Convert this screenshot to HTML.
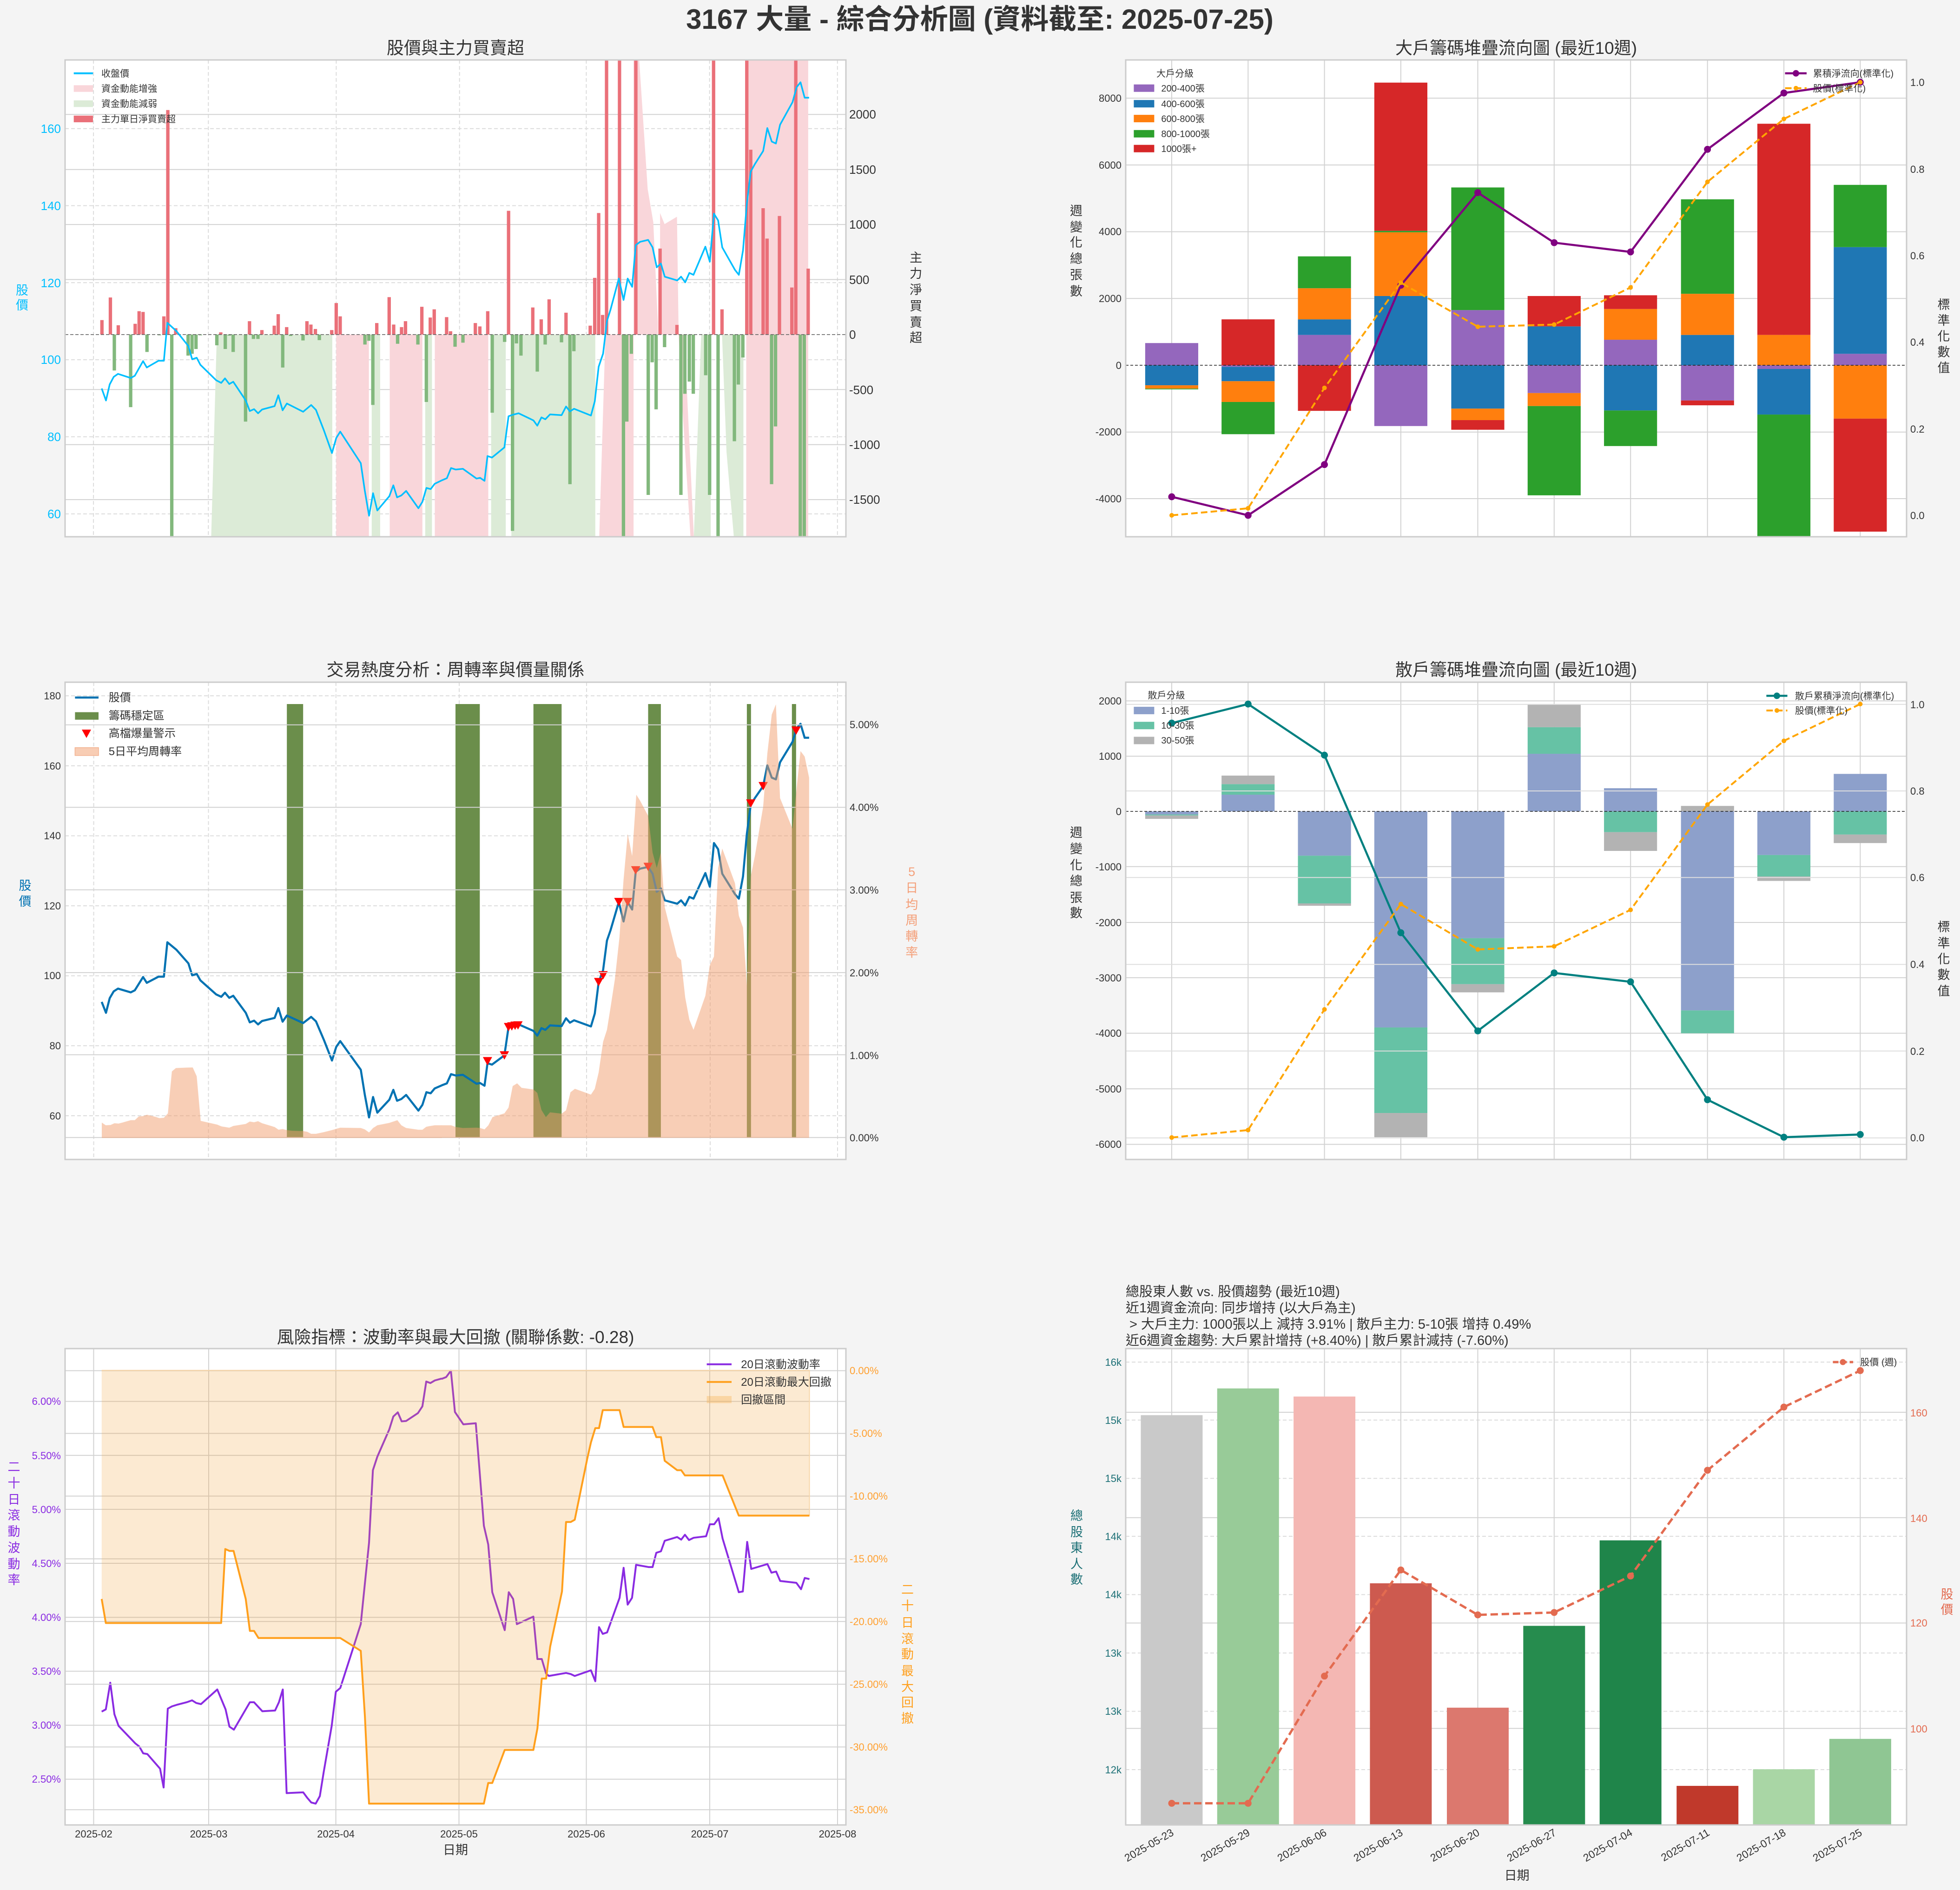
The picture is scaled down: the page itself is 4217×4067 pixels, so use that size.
<!DOCTYPE html>
<html><head><meta charset="utf-8">
<style>html,body{margin:0;padding:0;background:#f4f4f4}svg{display:block}</style>
</head><body>
<svg xmlns="http://www.w3.org/2000/svg" width="4217" height="4067" viewBox="0 0 4217 4067">
<style>
text{font-family:'Liberation Sans','Noto Sans CJK TC',sans-serif;fill:#333}
.tt{font-size:37px}
.k{font-size:22px}
.k26{font-size:26px}
.l20{font-size:20px}
.l24{font-size:24px}
.yl{font-size:27px}
.nss{vector-effect:non-scaling-stroke}
.gd{stroke:#dcdcdc;stroke-width:2;stroke-dasharray:8 5;fill:none}
.gs{stroke:#d2d2d2;stroke-width:2;fill:none}
.sp{fill:none;stroke:#cccccc;stroke-width:3}
</style>
<defs>
<clipPath id="cTL"><rect x="140" y="129" width="1680" height="1026"/></clipPath>
<clipPath id="cTR"><rect x="2422" y="129" width="1680" height="1026"/></clipPath>
<clipPath id="cML"><rect x="140" y="1468" width="1680" height="1027"/></clipPath>
<clipPath id="cMR"><rect x="2422" y="1468" width="1680" height="1027"/></clipPath>
<clipPath id="cBL"><rect x="140" y="2902" width="1680" height="1025"/></clipPath>
<clipPath id="cBR"><rect x="2422" y="2902" width="1680" height="1025"/></clipPath>
<marker id="mP" viewBox="-1 -1 2 2" markerUnits="userSpaceOnUse" markerWidth="15" markerHeight="15"><circle r="1" fill="#800080"/></marker>
<marker id="mO" viewBox="-1 -1 2 2" markerUnits="userSpaceOnUse" markerWidth="10" markerHeight="10"><circle r="1" fill="#ffa500"/></marker>
<marker id="mT" viewBox="-1 -1 2 2" markerUnits="userSpaceOnUse" markerWidth="15" markerHeight="15"><circle r="1" fill="#008080"/></marker>
<marker id="mR" viewBox="-1 -1 2 2" markerUnits="userSpaceOnUse" markerWidth="15" markerHeight="15"><circle r="1" fill="#e36b50"/></marker>
</defs>
<rect width="4217" height="4067" fill="#f4f4f4"/>

<!-- Main title -->
<text x="2108" y="62" text-anchor="middle" style="font-size:60px;font-weight:bold">3167 大量 - 綜合分析圖 (資料截至: 2025-07-25)</text>

<!-- ================= TOP LEFT ================= -->
<rect x="140" y="129" width="1680" height="1026" fill="#fff"/>
<g clip-path="url(#cTL)">
<path class="gd" d="M140 276.7H1820M140 442.5H1820M140 608.3H1820M140 774.1H1820M140 939.9H1820M140 1105.7H1820M201.1 129V1155M448.3 129V1155M723.4 129V1155M988.7 129V1155M1261.4 129V1155M1526.7 129V1155M1801.8 129V1155"/>
<path class="gs" d="M140 246.3H1820M140 364.7H1820M140 483.1H1820M140 601.5H1820M140 838.3H1820M140 956.7H1820M140 1075.1H1820"/>
<g transform="scale(1.21173,0.79719)">
<g fill="#dcebd7">
<polygon points="385,903 590,903 590,1449 375,1449"/>
<polygon points="660,903 675,903 675,1449 660,1449"/>
<polygon points="755,903 767,903 767,1449 755,1449"/>
<polygon points="872,903 898,903 898,1449 872,1449"/>
<polygon points="908,903 1057,903 1057,1449 908,1449"/>
<polygon points="1245,903 1262,903 1262,1449 1232,1449"/>
<polygon points="1282,903 1320,903 1320,1449 1303,1449 1290,1220"/>
</g>
<g fill="#f9d6da">
<polygon points="597,903 655,903 655,1449 597,1449"/>
<polygon points="692,903 750,903 750,1449 692,1449"/>
<polygon points="772,903 867,903 867,1449 772,1449"/>
<polygon points="1075,903 1125,903 1125,1449 1064,1449"/>
<polygon points="1125,162 1135,162 1150,510 1160,600 1168,870 1168,903 1125,903"/>
<polygon points="1172,575 1180,605 1202,585 1205,903 1172,903"/>
<polygon points="1205,903 1215,903 1232,1449 1226,1449 1210,1060"/>
<polygon points="1325,162 1435,162 1435,1449 1325,1449"/>
</g>
<path fill="#ea7079" d="M178 903V864h6V903zM193 903V803h6V903zM207 903V878h6V903zM237 903V874h6V903zM244 903V840h6V903zM251 903V842h6V903zM288 903V854h6V903zM295 903V297h6V903zM309 903V886h6V903zM389 903V897h6V903zM440 903V867h6V903zM462 903V891h6V903zM484 903V879h6V903zM491 903V848h6V903zM506 903V883h6V903zM542 903V867h6V903zM549 903V876h6V903zM557 903V888h6V903zM586 903V891h6V903zM594 903V818h6V903zM601 903V854h6V903zM666 903V872h6V903zM688 903V802h6V903zM696 903V876h6V903zM710 903V883h6V903zM717 903V867h6V903zM746 903V828h6V903zM761 903V857h6V903zM768 903V835h6V903zM790 903V856h6V903zM797 903V894h6V903zM841 903V872h6V903zM849 903V881h6V903zM863 903V840h6V903zM900 903V569h6V903zM943 903V830h6V903zM958 903V862h6V903zM972 903V808h6V903zM1002 903V844h6V903zM1045 903V879h6V903zM1053 903V750h6V903zM1060 903V575h6V903zM1067 903V850h6V903zM1074 903V162h6V903zM1097 903V162h6V903zM1126 903V162h6V903zM1169 903V671h6V903zM1199 903V877h6V903zM1264 903V162h6V903zM1279 903V835h6V903zM1323 903V162h6V903zM1330 903V404h6V903zM1352 903V562h6V903zM1359 903V644h6V903zM1381 903V583h6V903zM1403 903V776h6V903zM1410 903V162h6V903zM1432 903V725h6V903z"/>
<path fill="#82b87d" d="M200 903V1000h6V903zM229 903V1099h6V903zM258 903V950h6V903zM280 903V905h6V903zM302 903V1449h6V903zM331 903V960h6V903zM338 903V955h6V903zM345 903V942h6V903zM353 903V905h6V903zM382 903V932h6V903zM397 903V942h6V903zM404 903V906h6V903zM411 903V950h6V903zM433 903V1138h6V903zM447 903V915h6V903zM455 903V915h6V903zM499 903V992h6V903zM513 903V907h6V903zM535 903V919h6V903zM564 903V918h6V903zM645 903V930h6V903zM652 903V920h6V903zM659 903V1093h6V903zM703 903V928h6V903zM739 903V930h6V903zM754 903V1085h6V903zM805 903V936h6V903zM819 903V925h6V903zM871 903V1114h6V903zM893 903V923h6V903zM907 903V1433h6V903zM914 903V927h6V903zM922 903V960h6V903zM951 903V1003h6V903zM965 903V930h6V903zM994 903V924h6V903zM1009 903V1307h6V903zM1016 903V948h6V903zM1104 903V1449h6V903zM1110 903V1138h6V903zM1118 903V955h6V903zM1148 903V1336h6V903zM1155 903V978h6V903zM1162 903V1105h6V903zM1177 903V937h6V903zM1206 903V1336h6V903zM1213 903V1063h6V903zM1221 903V1030h6V903zM1228 903V1063h6V903zM1250 903V1013h6V903zM1257 903V1336h6V903zM1272 903V1449h6V903zM1301 903V1191h6V903zM1308 903V1038h6V903zM1316 903V965h6V903zM1367 903V1307h6V903zM1374 903V1151h6V903zM1418 903V1449h6V903zM1425 903V1449h6V903z"/>
</g>
<path d="M140 719.9H1820" stroke="#666" stroke-width="1.6" stroke-dasharray="7 4" fill="none"/>
<g fill="none" stroke="#00bfff" stroke-width="3.5" stroke-linejoin="round">
<polyline class="nss" transform="translate(100,-18.26) scale(0.57405,0.80744)" points="207,1058 223,1090 237,1047 252,1027 268,1019 316,1030 331,1024 362,985 376,1002 420,984 440,984 453,883 487,905 532,945 546,980 563,976 577,995 636,1036 655,1043 669,1031 685,1046 700,1040 747,1090 762,1118 778,1113 793,1124 808,1114 855,1105 869,1076 885,1116 901,1098 962,1120 992,1102 1010,1115 1040,1170 1070,1230 1086,1190 1101,1173 1178,1257 1193,1330 1209,1397 1224,1337 1240,1383 1285,1345 1300,1316 1314,1348 1330,1343 1348,1331 1394,1377 1409,1360 1424,1323 1440,1326 1455,1312 1481,1303"/>
<polyline class="nss" transform="translate(950,-18.26) scale(0.63776,0.80744)" points="0,1303 18,1297 32,1270 48,1274 72,1272 118,1298 130,1296 145,1304 155,1238 170,1242 212,1215 226,1132 240,1128 260,1124 310,1143 323,1157 337,1135 350,1140 366,1127 405,1129 420,1106 433,1119 447,1112 504,1130 517,1092 530,1000 545,965 558,878 570,848 598,765 614,822 628,765 643,787 655,676 670,667 697,662 712,682 726,735 740,725 753,760 795,770 808,760 822,775 836,750 850,755 890,680 905,720 919,592 933,610 947,682 990,742 1003,755 1017,690 1030,565 1043,480 1057,460 1085,425 1099,364 1114,400 1128,405 1142,355 1184,295 1198,255 1211,242 1225,283 1240,283"/>
</g>
<!-- legend -->
<path d="M158.7 157.8H200" stroke="#00bfff" stroke-width="4"/>
<rect x="158.7" y="183.4" width="41.3" height="14.3" fill="#f9d6da"/>
<rect x="158.7" y="216" width="41.3" height="14.3" fill="#dcebd7"/>
<rect x="158.7" y="248.8" width="41.3" height="14.3" fill="#ea7079"/>
<text class="l20" x="218" y="165">收盤價</text>
<text class="l20" x="218" y="197.5">資金動能增強</text>
<text class="l20" x="218" y="230">資金動能減弱</text>
<text class="l20" x="218" y="263">主力單日淨買賣超</text>
</g>
<rect class="sp" x="140" y="129" width="1680" height="1026"/>
<text class="tt" x="980" y="116" text-anchor="middle">股價與主力買賣超</text>
<g class="k26" text-anchor="end" style="fill:#00bfff">
<text x="131" y="286" style="fill:#00bfff">160</text>
<text x="131" y="452" style="fill:#00bfff">140</text>
<text x="131" y="618" style="fill:#00bfff">120</text>
<text x="131" y="783" style="fill:#00bfff">100</text>
<text x="131" y="949" style="fill:#00bfff">80</text>
<text x="131" y="1115" style="fill:#00bfff">60</text>
</g>
<g class="k26">
<text x="1827" y="255">2000</text>
<text x="1827" y="374">1500</text>
<text x="1827" y="492">1000</text>
<text x="1827" y="611">500</text>
<text x="1827" y="729">0</text>
<text x="1827" y="848">-500</text>
<text x="1827" y="966">-1000</text>
<text x="1827" y="1084">-1500</text>
</g>
<text class="yl" text-anchor="middle" style="fill:#00bfff"><tspan x="47.5" y="634">股</tspan><tspan x="47.5" y="666">價</tspan></text>
<text class="yl" text-anchor="middle"><tspan x="1970.6" y="564">主</tspan><tspan x="1970.6" y="598">力</tspan><tspan x="1970.6" y="633">淨</tspan><tspan x="1970.6" y="668">買</tspan><tspan x="1970.6" y="703">賣</tspan><tspan x="1970.6" y="736">超</tspan></text>

<!-- ================= TOP RIGHT ================= -->
<rect x="2422" y="129" width="1680" height="1026" fill="#fff"/>
<g clip-path="url(#cTR)">
<path class="gs" d="M2422 211.3H4102M2422 355H4102M2422 498.6H4102M2422 642.3H4102M2422 929.7H4102M2422 1073H4102M2521 129V1155M2685.3 129V1155M2849.6 129V1155M3013.9 129V1155M3179.5 129V1155M3343.8 129V1155M3508.2 129V1155M3673.7 129V1155M3838.1 129V1155M4002.4 129V1155"/>
<g transform="translate(2250,0) scale(1.2544,0.7972)">
<g fill="#9467bd">
<rect x="170.5" y="926" width="91" height="60"/><rect x="301.5" y="986" width="91" height="4"/><rect x="432.5" y="904" width="91" height="82"/><rect x="563.5" y="986" width="91" height="164"/><rect x="695.5" y="837" width="91" height="149"/><rect x="826.5" y="986" width="91" height="75"/><rect x="957.5" y="917" width="91" height="69"/><rect x="1089.5" y="986" width="91" height="95"/><rect x="1220.5" y="986" width="91" height="10"/><rect x="1351.5" y="955" width="91" height="31"/>
</g>
<g fill="#1f77b4">
<rect x="170.5" y="986" width="91" height="54"/><rect x="301.5" y="990" width="91" height="39"/><rect x="432.5" y="862" width="91" height="42"/><rect x="563.5" y="799" width="91" height="187"/><rect x="695.5" y="986" width="91" height="117"/><rect x="826.5" y="881" width="91" height="105"/><rect x="957.5" y="986" width="91" height="122"/><rect x="1089.5" y="904" width="91" height="82"/><rect x="1220.5" y="996" width="91" height="123"/><rect x="1351.5" y="667" width="91" height="288"/>
</g>
<g fill="#ff7f0e">
<rect x="170.5" y="1040" width="91" height="9"/><rect x="301.5" y="1029" width="91" height="56"/><rect x="432.5" y="778" width="91" height="84"/><rect x="563.5" y="627" width="91" height="172"/><rect x="695.5" y="1103" width="91" height="31"/><rect x="826.5" y="1061" width="91" height="35"/><rect x="957.5" y="834" width="91" height="83"/><rect x="1089.5" y="793" width="91" height="111"/><rect x="1220.5" y="904" width="91" height="82"/><rect x="1351.5" y="986" width="91" height="144"/>
</g>
<g fill="#2ca02c">
<rect x="170.5" y="1049" width="91" height="2"/><rect x="301.5" y="1085" width="91" height="87"/><rect x="432.5" y="692" width="91" height="86"/><rect x="563.5" y="623" width="91" height="4"/><rect x="695.5" y="506" width="91" height="331"/><rect x="826.5" y="1096" width="91" height="241"/><rect x="957.5" y="1108" width="91" height="96"/><rect x="1089.5" y="538" width="91" height="255"/><rect x="1220.5" y="1119" width="91" height="340"/><rect x="1351.5" y="499" width="91" height="168"/>
</g>
<g fill="#d62728">
<rect x="301.5" y="862" width="91" height="124"/><rect x="432.5" y="986" width="91" height="123"/><rect x="563.5" y="223" width="91" height="400"/><rect x="695.5" y="1134" width="91" height="26"/><rect x="826.5" y="799" width="91" height="82"/><rect x="957.5" y="797" width="91" height="37"/><rect x="1089.5" y="1081" width="91" height="13"/><rect x="1220.5" y="334" width="91" height="570"/><rect x="1351.5" y="1130" width="91" height="305"/>
</g>
</g>
<path d="M2422 786H4102" stroke="#222" stroke-width="1.6" stroke-dasharray="6 4" fill="none"/>
<polyline fill="none" stroke="#800080" stroke-width="4.5" stroke-linejoin="round" marker-start="url(#mP)" marker-mid="url(#mP)" marker-end="url(#mP)" points="2521,1069 2685.3,1108.9 2849.6,999.7 3013.9,613.8 3179.5,414.5 3343.8,522.2 3508.2,542.1 3673.7,321.3 3838.1,200.1 4002.4,177"/>
<polyline fill="none" stroke="#ffa500" stroke-width="4" stroke-dasharray="14 7" marker-start="url(#mO)" marker-mid="url(#mO)" marker-end="url(#mO)" points="2521,1108.9 2685.3,1093.8 2849.6,834.7 3013.9,608.3 3179.5,703.1 3343.8,698.4 3508.2,618.6 3673.7,391.4 3838.1,255.9 4002.4,177"/>
<!-- legends -->
<text class="l20" x="2488" y="165">大戶分級</text>
<rect x="2439.4" y="181.7" width="44" height="16" fill="#9467bd"/>
<rect x="2439.4" y="215.2" width="44" height="16" fill="#1f77b4"/>
<rect x="2439.4" y="247.1" width="44" height="16" fill="#ff7f0e"/>
<rect x="2439.4" y="279.8" width="44" height="16" fill="#2ca02c"/>
<rect x="2439.4" y="311.7" width="44" height="16" fill="#d62728"/>
<text class="l20" x="2498.4" y="197">200-400張</text>
<text class="l20" x="2498.4" y="230.5">400-600張</text>
<text class="l20" x="2498.4" y="262.5">600-800張</text>
<text class="l20" x="2498.4" y="295">800-1000張</text>
<text class="l20" x="2498.4" y="327">1000張+</text>
<path d="M3840.6 157.8H3887" stroke="#800080" stroke-width="4.5"/><circle cx="3864" cy="157.8" r="7" fill="#800080"/>
<path d="M3840.6 189.7H3887" stroke="#ffa500" stroke-width="4" stroke-dasharray="14 7"/><circle cx="3864" cy="189.7" r="5" fill="#ffa500"/>
<text class="l20" x="3900.8" y="165">累積淨流向(標準化)</text>
<text class="l20" x="3900.8" y="197">股價(標準化)</text>
</g>
<rect class="sp" x="2422" y="129" width="1680" height="1026"/>
<text class="tt" x="3262" y="116" text-anchor="middle">大戶籌碼堆疊流向圖 (最近10週)</text>
<g class="k" text-anchor="end">
<text x="2413" y="219">8000</text><text x="2413" y="363">6000</text><text x="2413" y="506">4000</text><text x="2413" y="650">2000</text><text x="2413" y="794">0</text><text x="2413" y="937">-2000</text><text x="2413" y="1081">-4000</text>
</g>
<g class="k">
<text x="4110" y="185">1.0</text><text x="4110" y="372">0.8</text><text x="4110" y="558">0.6</text><text x="4110" y="744">0.4</text><text x="4110" y="931">0.2</text><text x="4110" y="1117">0.0</text>
</g>
<text class="yl" text-anchor="middle"><tspan x="2315.5" y="463">週</tspan><tspan x="2315.5" y="498">變</tspan><tspan x="2315.5" y="531">化</tspan><tspan x="2315.5" y="566">總</tspan><tspan x="2315.5" y="601">張</tspan><tspan x="2315.5" y="636">數</tspan></text>
<text class="yl" text-anchor="middle"><tspan x="4182" y="665">標</tspan><tspan x="4182" y="699">準</tspan><tspan x="4182" y="733">化</tspan><tspan x="4182" y="767">數</tspan><tspan x="4182" y="801">值</tspan></text>

<!-- ================= MIDDLE LEFT ================= -->
<rect x="140" y="1468" width="1680" height="1027" fill="#fff"/>
<g clip-path="url(#cML)">
<path class="gd" d="M140 1497.3H1820M140 1647.9H1820M140 1798.5H1820M140 1949.1H1820M140 2099.7H1820M140 2250.3H1820M140 2400.9H1820M201.6 1468V2495M448.5 1468V2495M722.8 1468V2495M988 1468V2495M1262 1468V2495M1528 1468V2495M1802 1468V2495"/>
<g fill="#6b8e4b">
<rect x="617.2" y="1515" width="35" height="933.6"/>
<rect x="980" y="1515" width="52.3" height="933.6"/>
<rect x="1147.7" y="1515" width="60.6" height="933.6"/>
<rect x="1394.5" y="1515" width="27.4" height="933.6"/>
<rect x="1606.9" y="1515" width="8.9" height="933.6"/>
<rect x="1703.8" y="1515" width="9" height="933.6"/>
</g>
<g fill="none" stroke="#0072b2" stroke-width="4.5" stroke-linejoin="round">
<polyline class="nss" transform="translate(100,1380) scale(0.57405,0.73341)" points="207,1058 223,1090 237,1047 252,1027 268,1019 316,1030 331,1024 362,985 376,1002 420,984 440,984 453,883 487,905 532,945 546,980 563,976 577,995 636,1036 655,1043 669,1031 685,1046 700,1040 747,1090 762,1118 778,1113 793,1124 808,1114 855,1105 869,1076 885,1116 901,1098 962,1120 992,1102 1010,1115 1040,1170 1070,1230 1086,1190 1101,1173 1178,1257 1193,1330 1209,1397 1224,1337 1240,1383 1285,1345 1300,1316 1314,1348 1330,1343 1348,1331 1394,1377 1409,1360 1424,1323 1440,1326 1455,1312 1481,1303"/>
<polyline class="nss" transform="translate(950,1380) scale(0.63776,0.73341)" points="0,1303 18,1297 32,1270 48,1274 72,1272 118,1298 130,1296 145,1304 155,1238 170,1242 212,1215 226,1132 240,1128 260,1124 310,1143 323,1157 337,1135 350,1140 366,1127 405,1129 420,1106 433,1119 447,1112 504,1130 517,1092 530,1000 545,965 558,878 570,848 598,765 614,822 628,765 643,787 655,676 670,667 697,662 712,682 726,735 740,725 753,760 795,770 808,760 822,775 836,750 850,755 890,680 905,720 919,592 933,610 947,682 990,742 1003,755 1017,690 1030,565 1043,480 1057,460 1085,425 1099,364 1114,400 1128,405 1142,355 1184,295 1198,255 1211,242 1225,283 1240,283"/>
</g>
<path fill="#ff0000" d="M1038.9 2274.6h20l-10 18zM1075.2 2262.1h20l-10 18zM1084.1 2201.2h20l-10 18zM1091.2 2199.8h20l-10 18zM1098.2 2198.3h20l-10 18zM1104.5 2197.6h20l-10 18zM1278 2104.4h20l-10 18zM1287.6 2089.7h20l-10 18zM1321.4 1932.1h20l-10 18zM1340.5 1932.1h20l-10 18zM1357.7 1863.9h20l-10 18zM1384.5 1856.5h20l-10 18zM1605.2 1720.1h20l-10 18zM1632 1682.7h20l-10 18zM1702.8 1563.2h20l-10 18z"/>
<path class="gs" d="M140 1559.7H1820M140 1737.2H1820M140 1914.7H1820M140 2092.9H1820M140 2269.6H1820M140 2447.8H1820"/>
<g opacity="0.5" fill="#f19d6d">
<polygon transform="translate(100,1380) scale(0.57405,0.73341)" points="207,1457 207,1412 222,1420 240,1419 255,1414 270,1415 285,1412 316,1405 331,1405 346,1394 362,1393 377,1389 392,1392 408,1395 423,1399 440,1398 455,1385 470,1262 485,1252 548,1250 563,1276 578,1407 640,1418 655,1423 685,1427 700,1422 747,1416 762,1409 778,1411 793,1408 808,1414 855,1425 870,1433 885,1431 901,1434 920,1436 962,1437 977,1439 992,1445 1010,1445 1040,1440 1070,1434 1101,1427 1178,1428 1193,1432 1209,1441 1224,1428 1240,1420 1285,1413 1315,1405 1330,1420 1348,1428 1394,1433 1409,1433 1424,1424 1455,1420 1482,1420 1482,1457"/>
<polygon transform="translate(950,1380) scale(0.63776,0.73341)" points="0,1457 0,1420 32,1420 48,1425 72,1428 118,1427 130,1428 145,1432 158,1420 172,1396 212,1385 226,1368 240,1305 255,1297 270,1310 310,1315 323,1325 337,1375 352,1396 366,1382 405,1386 420,1376 435,1323 450,1313 504,1330 517,1313 530,1265 545,1175 558,1140 570,1075 585,990 600,870 614,700 628,565 643,630 657,450 670,468 697,512 712,620 726,665 740,620 753,780 795,925 808,935 822,1045 836,1110 850,1140 890,1040 905,950 919,925 933,665 947,608 990,710 1003,805 1017,840 1030,1010 1043,690 1057,630 1085,485 1099,330 1114,215 1128,185 1142,460 1184,550 1198,430 1211,322 1225,338 1240,400 1240,1457"/>
</g>
<!-- legend -->
<path d="M161.4 1501H212" stroke="#0072b2" stroke-width="4.5"/>
<rect x="161.4" y="1532.5" width="50.6" height="16.2" fill="#6b8e4b"/>
<path d="M176 1570h20l-10 18z" fill="#ff0000"/>
<rect x="161.4" y="1608.8" width="50.6" height="16.9" fill="#f8cdb4" stroke="#f2b08e" stroke-width="1.5"/>
<text class="l24" x="233.8" y="1509">股價</text>
<text class="l24" x="233.8" y="1548">籌碼穩定區</text>
<text class="l24" x="233.8" y="1586">高檔爆量警示</text>
<text class="l24" x="233.8" y="1625">5日平均周轉率</text>
</g>
<rect class="sp" x="140" y="1468" width="1680" height="1027"/>
<text class="tt" x="980" y="1454" text-anchor="middle">交易熱度分析：周轉率與價量關係</text>
<g class="k" text-anchor="end">
<text x="131" y="1505">180</text><text x="131" y="1656">160</text><text x="131" y="1806">140</text><text x="131" y="1957">120</text><text x="131" y="2107">100</text><text x="131" y="2258">80</text><text x="131" y="2409">60</text>
</g>
<g class="k">
<text x="1828" y="1567">5.00%</text><text x="1828" y="1745">4.00%</text><text x="1828" y="1923">3.00%</text><text x="1828" y="2101">2.00%</text><text x="1828" y="2279">1.00%</text><text x="1828" y="2456">0.00%</text>
</g>
<text class="yl" text-anchor="middle" style="fill:#0072b2"><tspan x="54" y="1915" style="fill:#0072b2">股</tspan><tspan x="54" y="1949" style="fill:#0072b2">價</tspan></text>
<text class="yl" text-anchor="middle" style="fill:#f4a07a"><tspan x="1961.7" y="1885" style="fill:#f4a07a">5</tspan><tspan x="1961.7" y="1920" style="fill:#f4a07a">日</tspan><tspan x="1961.7" y="1956" style="fill:#f4a07a">均</tspan><tspan x="1961.7" y="1990" style="fill:#f4a07a">周</tspan><tspan x="1961.7" y="2024" style="fill:#f4a07a">轉</tspan><tspan x="1961.7" y="2059" style="fill:#f4a07a">率</tspan></text>

<!-- ================= MIDDLE RIGHT ================= -->
<rect x="2422" y="1468" width="1680" height="1027" fill="#fff"/>
<g clip-path="url(#cMR)">
<path class="gs" d="M2422 1508.3H4102M2422 1627.2H4102M2422 1864.8H4102M2422 1985H4102M2422 2103.9H4102M2422 2223.4H4102M2422 2343H4102M2422 2462.5H4102M2521 1468V2495M2685.3 1468V2495M2849.6 1468V2495M3013.9 1468V2495M3179.5 1468V2495M3343.8 1468V2495M3508.2 1468V2495M3673.7 1468V2495M3838.1 1468V2495M4002.4 1468V2495"/>
<g transform="translate(2250,1380) scale(1.2544,0.73341)">
<g fill="#8da0cb">
<rect x="170.5" y="499" width="91" height="9"/><rect x="301.5" y="450" width="91" height="49"/><rect x="432.5" y="499" width="91" height="130"/><rect x="563.5" y="499" width="91" height="634"/><rect x="695.5" y="499" width="91" height="372"/><rect x="826.5" y="330" width="91" height="169"/><rect x="957.5" y="431" width="91" height="68"/><rect x="1089.5" y="499" width="91" height="584"/><rect x="1220.5" y="499" width="91" height="128"/><rect x="1351.5" y="389" width="91" height="110"/>
</g>
<g fill="#66c2a5">
<rect x="170.5" y="508" width="91" height="3"/><rect x="301.5" y="419" width="91" height="31"/><rect x="432.5" y="629" width="91" height="140"/><rect x="563.5" y="1133" width="91" height="251"/><rect x="695.5" y="871" width="91" height="135"/><rect x="826.5" y="252" width="91" height="78"/><rect x="957.5" y="499" width="91" height="61"/><rect x="1089.5" y="1083" width="91" height="67"/><rect x="1220.5" y="627" width="91" height="63"/><rect x="1351.5" y="499" width="91" height="68"/>
</g>
<g fill="#b3b3b3">
<rect x="170.5" y="511" width="91" height="10"/><rect x="301.5" y="394" width="91" height="25"/><rect x="432.5" y="769" width="91" height="7"/><rect x="563.5" y="1384" width="91" height="71"/><rect x="695.5" y="1006" width="91" height="24"/><rect x="826.5" y="184" width="91" height="68"/><rect x="957.5" y="560" width="91" height="55"/><rect x="1089.5" y="483" width="91" height="16"/><rect x="1220.5" y="690" width="91" height="13"/><rect x="1351.5" y="567" width="91" height="25"/>
</g>
</g>
<path class="gs" d="M2422 1515.7H4102M2422 1702H4102M2422 1888.3H4102M2422 2075.3H4102M2422 2261.6H4102M2422 2448.6H4102" style="stroke:#dedede"/>
<path d="M2422 1746H4102" stroke="#222" stroke-width="1.6" stroke-dasharray="6 4" fill="none"/>
<polyline fill="none" stroke="#008080" stroke-width="4.5" stroke-linejoin="round" marker-start="url(#mT)" marker-mid="url(#mT)" marker-end="url(#mT)" points="2521,1556 2685.3,1515 2849.6,1625 3013.9,2007.1 3179.5,2218.3 3343.8,2093.6 3508.2,2112.7 3673.7,2366.4 3838.1,2447.1 4002.4,2441.2"/>
<polyline fill="none" stroke="#ffa500" stroke-width="4" stroke-dasharray="14 7" marker-start="url(#mO)" marker-mid="url(#mO)" marker-end="url(#mO)" points="2521,2447.8 2685.3,2431.7 2849.6,2172.1 3013.9,1945.5 3179.5,2043 3343.8,2036.4 3508.2,1957.9 3673.7,1731.3 3838.1,1594.2 4002.4,1515"/>
<text class="l20" x="2469.5" y="1503">散戶分級</text>
<rect x="2439.4" y="1520.9" width="44" height="16" fill="#8da0cb"/>
<rect x="2439.4" y="1553.2" width="44" height="16" fill="#66c2a5"/>
<rect x="2439.4" y="1585.4" width="44" height="16" fill="#b3b3b3"/>
<text class="l20" x="2498.4" y="1536">1-10張</text>
<text class="l20" x="2498.4" y="1568">10-30張</text>
<text class="l20" x="2498.4" y="1600">30-50張</text>
<path d="M3800.4 1497.3H3845.6" stroke="#008080" stroke-width="4.5"/><circle cx="3823" cy="1497.3" r="7" fill="#008080"/>
<path d="M3800.4 1528.9H3845.6" stroke="#ffa500" stroke-width="4" stroke-dasharray="14 7"/><circle cx="3823" cy="1528.9" r="5" fill="#ffa500"/>
<text class="l20" x="3862" y="1504.5">散戶累積淨流向(標準化)</text>
<text class="l20" x="3862" y="1536">股價(標準化)</text>
</g>
<rect class="sp" x="2422" y="1468" width="1680" height="1027"/>
<text class="tt" x="3262" y="1454" text-anchor="middle">散戶籌碼堆疊流向圖 (最近10週)</text>
<g class="k" text-anchor="end">
<text x="2413" y="1516">2000</text><text x="2413" y="1635">1000</text><text x="2413" y="1754">0</text><text x="2413" y="1873">-1000</text><text x="2413" y="1993">-2000</text><text x="2413" y="2112">-3000</text><text x="2413" y="2231">-4000</text><text x="2413" y="2351">-5000</text><text x="2413" y="2470">-6000</text>
</g>
<g class="k">
<text x="4110" y="1524">1.0</text><text x="4110" y="1710">0.8</text><text x="4110" y="1896">0.6</text><text x="4110" y="2083">0.4</text><text x="4110" y="2270">0.2</text><text x="4110" y="2456">0.0</text>
</g>
<text class="yl" text-anchor="middle"><tspan x="2315.5" y="1801">週</tspan><tspan x="2315.5" y="1836">變</tspan><tspan x="2315.5" y="1871">化</tspan><tspan x="2315.5" y="1905">總</tspan><tspan x="2315.5" y="1941">張</tspan><tspan x="2315.5" y="1974">數</tspan></text>
<text class="yl" text-anchor="middle"><tspan x="4182" y="2004">標</tspan><tspan x="4182" y="2039">準</tspan><tspan x="4182" y="2073">化</tspan><tspan x="4182" y="2107">數</tspan><tspan x="4182" y="2142">值</tspan></text>

<!-- ================= BOTTOM LEFT ================= -->
<rect x="140" y="2902" width="1680" height="1025" fill="#fff"/>
<g clip-path="url(#cBL)">
<path class="gs" d="M140 3015.6H1820M140 3131.7H1820M140 3247.9H1820M140 3364H1820M140 3480.2H1820M140 3596.3H1820M140 3712.5H1820M140 3828.6H1820M201.5 2902V3927M449 2902V3927M722.6 2902V3927M987.5 2902V3927M1261.5 2902V3927M1527 2902V3927M1802 2902V3927"/>
<g fill="none" stroke="#8a2be2" stroke-width="4" stroke-linejoin="round">
<polyline class="nss" transform="translate(0,2800) scale(0.63776,0.80802)" points="343,1093 357,1087 372,1016 386,1100 400,1131 457,1178 470,1186 483,1204 497,1206 540,1245 552,1295 566,1085 580,1079 596,1075 630,1068 648,1063 662,1070 678,1073 733,1034 761,1087 774,1133 789,1141 843,1068 857,1068 885,1092 928,1090 941,1068 954,1034 967,1310 1023,1308 1037,1323 1050,1335 1065,1338 1079,1318 1092,1254 1119,1131 1133,1040 1148,1030 1190,927 1217,860 1245,643 1258,450 1273,414 1313,342 1327,307 1342,296 1355,320 1370,319 1410,298 1425,280 1438,214 1452,218 1467,211 1490,206"/>
<polyline class="nss" transform="translate(950,2800) scale(0.66964,0.80802)" points="0,207 15,202 30,185 43,295 70,328 110,325 122,450 136,598 150,648 163,775 203,876 216,775 230,793 242,860 295,840 308,953 322,953 336,992 345,998 400,990 415,993 428,998 480,983 494,1012 506,868 518,886 532,882 572,790 585,710 598,808 612,790 625,702 665,708 678,708 690,670 705,666 717,638 757,628 770,635 782,622 795,636 810,630 850,626 862,594 876,594 890,578 903,632 955,775 968,773 982,641 995,713 1047,700 1060,723 1075,720 1088,745 1140,750 1155,767 1167,737 1182,740"/>
</g>
<path class="gs" d="M140 2949.5H1820M140 3084.5H1820M140 3219.4H1820M140 3354.4H1820M140 3489.3H1820M140 3624.3H1820M140 3759.2H1820M140 3894.2H1820"/>
<g opacity="0.22" fill="#f6a437">
<polygon transform="translate(0,2800) scale(0.63776,0.80802)" points="343,184 343,793 357,857 746,857 760,660 774,665 788,665 829,793 843,878 857,878 872,897 1148,897 1217,931 1231,1105 1245,1338 1491,1338 1491,184"/>
<polygon transform="translate(950,2800) scale(0.66964,0.80802)" points="0,184 0,1338 136,1338 150,1283 163,1283 203,1195 295,1195 308,1138 322,1005 336,1005 349,920 387,773 400,588 415,588 428,582 468,420 480,376 494,338 506,338 518,290 572,290 585,335 678,335 690,362 705,362 717,425 757,450 770,450 782,464 903,464 955,571 1182,571 1182,184"/>
</g>
<path d="M218.8 2948.7H1741.5V3261.5" fill="none" stroke="#f7d6a8" stroke-width="2"/>
<g fill="none" stroke="#ff9f1c" stroke-width="4" stroke-linejoin="round">
<polyline class="nss" transform="translate(0,2800) scale(0.63776,0.80802)" points="343,793 357,857 746,857 760,660 774,665 788,665 829,793 843,878 857,878 872,897 1148,897 1217,931 1231,1105 1245,1338 1491,1338"/>
<polyline class="nss" transform="translate(950,2800) scale(0.66964,0.80802)" points="0,1338 136,1338 150,1283 163,1283 203,1195 295,1195 308,1138 322,1005 336,1005 349,920 387,773 400,588 415,588 428,582 468,420 480,376 494,338 506,338 518,290 572,290 585,335 678,335 690,362 705,362 717,425 757,450 770,450 782,464 903,464 955,571 1182,571"/>
</g>
<path d="M1520.6 2935.7H1574" stroke="#8a2be2" stroke-width="4"/>
<path d="M1520.6 2973.7H1574" stroke="#ff9f1c" stroke-width="4"/>
<rect x="1520.6" y="3004" width="53.4" height="15.4" fill="#f6a437" opacity="0.3"/>
<text class="l24" x="1594.2" y="2944">20日滾動波動率</text>
<text class="l24" x="1594.2" y="2982">20日滾動最大回撤</text>
<text class="l24" x="1594.2" y="3020">回撤區間</text>
</g>
<rect class="sp" x="140" y="2902" width="1680" height="1025"/>
<text class="tt" x="980" y="2890" text-anchor="middle">風險指標：波動率與最大回撤 (關聯係數: -0.28)</text>
<g class="k" text-anchor="end">
<text x="131" y="3023" style="fill:#8a2be2">6.00%</text><text x="131" y="3140" style="fill:#8a2be2">5.50%</text><text x="131" y="3256" style="fill:#8a2be2">5.00%</text><text x="131" y="3372" style="fill:#8a2be2">4.50%</text><text x="131" y="3488" style="fill:#8a2be2">4.00%</text><text x="131" y="3604" style="fill:#8a2be2">3.50%</text><text x="131" y="3720" style="fill:#8a2be2">3.00%</text><text x="131" y="3836" style="fill:#8a2be2">2.50%</text>
</g>
<g class="k">
<text x="1828" y="2957" style="fill:#ffa030">0.00%</text><text x="1828" y="3092" style="fill:#ffa030">-5.00%</text><text x="1828" y="3227" style="fill:#ffa030">-10.00%</text><text x="1828" y="3362" style="fill:#ffa030">-15.00%</text><text x="1828" y="3497" style="fill:#ffa030">-20.00%</text><text x="1828" y="3632" style="fill:#ffa030">-25.00%</text><text x="1828" y="3767" style="fill:#ffa030">-30.00%</text><text x="1828" y="3902" style="fill:#ffa030">-35.00%</text>
</g>
<g class="k" text-anchor="middle">
<text x="201.5" y="3954">2025-02</text><text x="449" y="3954">2025-03</text><text x="722.6" y="3954">2025-04</text><text x="987.5" y="3954">2025-05</text><text x="1261.5" y="3954">2025-06</text><text x="1527" y="3954">2025-07</text><text x="1802" y="3954">2025-08</text>
</g>
<text x="980" y="3990" text-anchor="middle" style="font-size:27px">日期</text>
<text class="yl" text-anchor="middle" style="fill:#8a2be2"><tspan x="30" y="3166" style="fill:#8a2be2">二</tspan><tspan x="30" y="3201" style="fill:#8a2be2">十</tspan><tspan x="30" y="3236" style="fill:#8a2be2">日</tspan><tspan x="30" y="3270" style="fill:#8a2be2">滾</tspan><tspan x="30" y="3305" style="fill:#8a2be2">動</tspan><tspan x="30" y="3340" style="fill:#8a2be2">波</tspan><tspan x="30" y="3375" style="fill:#8a2be2">動</tspan><tspan x="30" y="3409" style="fill:#8a2be2">率</tspan></text>
<text class="yl" text-anchor="middle" style="fill:#ff9f1c"><tspan x="1952.5" y="3430" style="fill:#ff9f1c">二</tspan><tspan x="1952.5" y="3465" style="fill:#ff9f1c">十</tspan><tspan x="1952.5" y="3501" style="fill:#ff9f1c">日</tspan><tspan x="1952.5" y="3536" style="fill:#ff9f1c">滾</tspan><tspan x="1952.5" y="3569" style="fill:#ff9f1c">動</tspan><tspan x="1952.5" y="3605" style="fill:#ff9f1c">最</tspan><tspan x="1952.5" y="3639" style="fill:#ff9f1c">大</tspan><tspan x="1952.5" y="3673" style="fill:#ff9f1c">回</tspan><tspan x="1952.5" y="3707" style="fill:#ff9f1c">撤</tspan></text>

<!-- ================= BOTTOM RIGHT ================= -->
<rect x="2422" y="2902" width="1680" height="1025" fill="#fff"/>
<g clip-path="url(#cBR)">
<path class="gd" d="M2422 2931H4102M2422 3055.7H4102M2422 3181.2H4102M2422 3305.9H4102M2422 3431.4H4102M2422 3557H4102M2422 3682.5H4102M2422 3808H4102"/>
<path class="gs" d="M2422 3039H4102M2422 3265.8H4102M2422 3492.5H4102M2422 3719.2H4102M2521 2902V3927M2685.3 2902V3927M2849.6 2902V3927M3013.9 2902V3927M3179.5 2902V3927M3343.8 2902V3927M3508.2 2902V3927M3673.7 2902V3927M3838.1 2902V3927M4002.4 2902V3927"/>
<g transform="translate(2250,2700) scale(1.2544,0.8718)">
<rect x="163" y="396" width="106" height="1012" fill="#c9c9c9"/>
<rect x="294" y="330" width="106" height="1078" fill="#98cb98"/>
<rect x="425" y="350" width="106" height="1058" fill="#f4b7b3"/>
<rect x="556" y="811" width="106" height="597" fill="#cd5a4f"/>
<rect x="688" y="1118" width="106" height="290" fill="#dc786e"/>
<rect x="819" y="916" width="106" height="492" fill="#268c4e"/>
<rect x="950" y="705" width="106" height="703" fill="#1f854a"/>
<rect x="1082" y="1311" width="106" height="97" fill="#c0392b"/>
<rect x="1213" y="1270" width="106" height="138" fill="#a9d6a5"/>
<rect x="1344" y="1195" width="106" height="213" fill="#8fc693"/>
</g>
<polyline fill="none" stroke="#e36b50" stroke-width="5" stroke-dasharray="16 8" marker-start="url(#mR)" marker-mid="url(#mR)" marker-end="url(#mR)" points="2521,3880.4 2685.3,3880.4 2849.6,3606.7 3013.9,3378.3 3179.5,3475 3343.8,3469.8 3508.2,3391.3 3673.7,3163.8 3838.1,3027.8 4002.4,2949.3"/>
<path d="M3943.5 2931H3987" stroke="#e36b50" stroke-width="5" stroke-dasharray="12 6"/><circle cx="3965" cy="2931" r="6.5" fill="#e36b50"/>
<text class="l20" x="4002.4" y="2938">股價 (週)</text>
</g>
<rect class="sp" x="2422" y="2902" width="1680" height="1025"/>
<g style="font-size:29px">
<text x="2422" y="2789">總股東人數 vs. 股價趨勢 (最近10週)</text>
<text x="2422" y="2824">近1週資金流向: 同步增持 (以大戶為主)</text>
<text x="2422" y="2859" xml:space="preserve"> &gt; 大戶主力: 1000張以上 減持 3.91% | 散戶主力: 5-10張 增持 0.49%</text>
<text x="2422" y="2894">近6週資金趨勢: 大戶累計增持 (+8.40%) | 散戶累計減持 (-7.60%)</text>
</g>
<g class="k" text-anchor="end">
<text x="2413" y="2939" style="fill:#1b6f75">16k</text><text x="2413" y="3064" style="fill:#1b6f75">15k</text><text x="2413" y="3189" style="fill:#1b6f75">15k</text><text x="2413" y="3314" style="fill:#1b6f75">14k</text><text x="2413" y="3439" style="fill:#1b6f75">14k</text><text x="2413" y="3565" style="fill:#1b6f75">13k</text><text x="2413" y="3690" style="fill:#1b6f75">13k</text><text x="2413" y="3816" style="fill:#1b6f75">12k</text>
</g>
<g class="k">
<text x="4110" y="3048" style="fill:#e36b50">160</text><text x="4110" y="3275" style="fill:#e36b50">140</text><text x="4110" y="3500" style="fill:#e36b50">120</text><text x="4110" y="3728" style="fill:#e36b50">100</text>
</g>
<g text-anchor="end" style="font-size:23px">
<text transform="translate(2527,3948) rotate(-30)">2025-05-23</text>
<text transform="translate(2691,3948) rotate(-30)">2025-05-29</text>
<text transform="translate(2856,3948) rotate(-30)">2025-06-06</text>
<text transform="translate(3020,3948) rotate(-30)">2025-06-13</text>
<text transform="translate(3185,3948) rotate(-30)">2025-06-20</text>
<text transform="translate(3350,3948) rotate(-30)">2025-06-27</text>
<text transform="translate(3514,3948) rotate(-30)">2025-07-04</text>
<text transform="translate(3680,3948) rotate(-30)">2025-07-11</text>
<text transform="translate(3844,3948) rotate(-30)">2025-07-18</text>
<text transform="translate(4008,3948) rotate(-30)">2025-07-25</text>
</g>
<text x="3263.6" y="4045" text-anchor="middle" style="font-size:27px">日期</text>
<text class="yl" text-anchor="middle" style="fill:#1b6f75"><tspan x="2316.5" y="3271" style="fill:#1b6f75">總</tspan><tspan x="2316.5" y="3306" style="fill:#1b6f75">股</tspan><tspan x="2316.5" y="3340" style="fill:#1b6f75">東</tspan><tspan x="2316.5" y="3375" style="fill:#1b6f75">人</tspan><tspan x="2316.5" y="3408" style="fill:#1b6f75">數</tspan></text>
<text class="yl" text-anchor="middle" style="fill:#e36b50"><tspan x="4189" y="3440" style="fill:#e36b50">股</tspan><tspan x="4189" y="3473" style="fill:#e36b50">價</tspan></text>
</svg>
</body></html>
